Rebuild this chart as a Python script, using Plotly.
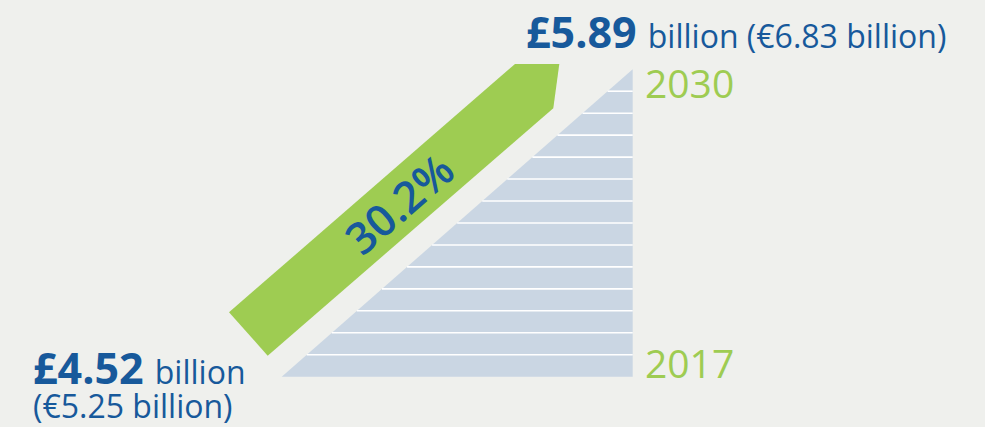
import plotly.graph_objects as go

# ---------------- data ----------------
YEARS = list(range(2017, 2031))
START_YEAR_LABEL = "2017"
END_YEAR_LABEL = "2030"
START_GBP = 4.52
END_GBP = 5.89
START_EUR = 5.25
END_EUR = 6.83
GROWTH_PCT = 30.2

# ---------------- style ----------------
BG = "#eff0ed"
GREEN = "#9ecc52"
BAND = "#cad6e3"
BLUE = "#17599b"
FONT = "Open Sans"
W, H = 985, 427

# ---------------- geometry (axis scale) ----------------
PX_PER_YEAR = 21.96
TRI_LEFT, TRI_RIGHT = 281.7, 632.7
TRI_BOTTOM_PX = 376.7
y_bottom = YEARS[0] - 0.5
y_top = YEARS[-1] + 0.5
Y_MIN = y_bottom - (H - TRI_BOTTOM_PX) / PX_PER_YEAR
Y_MAX = y_bottom + TRI_BOTTOM_PX / PX_PER_YEAR


def py(p):
    """convert a vertical pixel position to the year axis"""
    return Y_MAX - p / PX_PER_YEAR


def x_left(y):
    return TRI_LEFT + (y - y_bottom) / (y_top - y_bottom) * (TRI_RIGHT - TRI_LEFT)


fig = go.Figure()

# triangle of yearly bands
fig.add_trace(go.Scatter(
    x=[TRI_LEFT, TRI_RIGHT, TRI_RIGHT, TRI_LEFT],
    y=[y_bottom, y_bottom, y_top, y_bottom],
    fill="toself", fillcolor=BAND, mode="lines", line=dict(width=0),
    hoverinfo="skip", showlegend=False))

sx, sy = [], []
for yr in YEARS[:-1]:
    b = yr + 0.5
    sx += [x_left(b), TRI_RIGHT, None]
    sy += [b, b, None]
fig.add_trace(go.Scatter(x=sx, y=sy, mode="lines",
                         line=dict(color="white", width=1.6),
                         hoverinfo="skip", showlegend=False))

# growth arrow
arrow_px = [(229, 312.3), (515, 64), (559.3, 64), (553.3, 108.3), (267.7, 355.7)]
fig.add_trace(go.Scatter(
    x=[p[0] for p in arrow_px] + [arrow_px[0][0]],
    y=[py(p[1]) for p in arrow_px] + [py(arrow_px[0][1])],
    fill="toself", fillcolor=GREEN, mode="lines", line=dict(width=0),
    hoverinfo="skip", showlegend=False))

ann = []
ann.append(dict(x=399, y=py(203), text=f"{GROWTH_PCT:.1f}%", textangle=-41,
                showarrow=False, font=dict(family=FONT, size=44, color=BLUE, weight=600)))
ann.append(dict(x=643, y=py(82), text=END_YEAR_LABEL, xanchor="left", yanchor="middle",
                showarrow=False, font=dict(family=FONT, size=39, color=GREEN)))
ann.append(dict(x=643, y=py(362), text=START_YEAR_LABEL, xanchor="left", yanchor="middle",
                showarrow=False, font=dict(family=FONT, size=39, color=GREEN)))
ann.append(dict(x=524, y=py(31), xanchor="left", yanchor="middle", showarrow=False,
                text=f"<b>£{END_GBP:.2f}</b>&nbsp;<span style='font-size:32px'>billion (€{END_EUR:.2f} billion)</span>",
                font=dict(family=FONT, size=43, color=BLUE)))
ann.append(dict(x=31, y=py(367), xanchor="left", yanchor="middle", showarrow=False,
                text=f"<b>£{START_GBP:.2f}</b>&nbsp;<span style='font-size:32px'>billion</span>",
                font=dict(family=FONT, size=43, color=BLUE)))
ann.append(dict(x=31, y=py(405), xanchor="left", yanchor="middle", showarrow=False,
                text=f"(€{START_EUR:.2f} billion)",
                font=dict(family=FONT, size=32, color=BLUE)))

fig.update_layout(
    width=W, height=H, margin=dict(l=0, r=0, t=0, b=0),
    paper_bgcolor=BG, plot_bgcolor=BG,
    xaxis=dict(range=[0, W], visible=False, fixedrange=True),
    yaxis=dict(range=[Y_MIN, Y_MAX], visible=False, fixedrange=True),
    annotations=ann, showlegend=False)

fig.write_html("out.html", config={"displayModeBar": False},
               post_script="document.body.style.margin='0';document.body.style.overflow='hidden';")
